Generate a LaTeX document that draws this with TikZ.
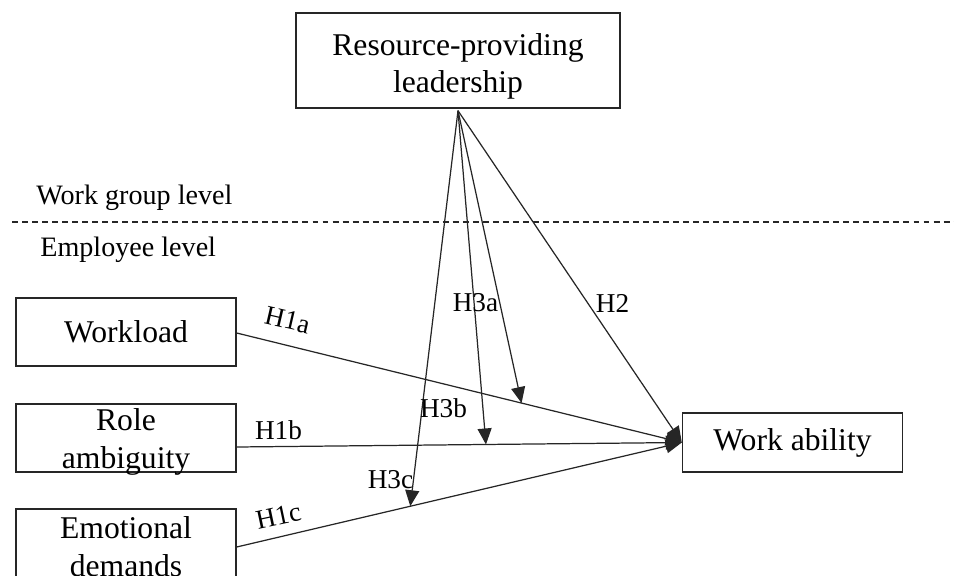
\documentclass[tikz,border=0pt]{standalone}
\usepackage{fontspec}
\setmainfont{Liberation Serif}
\usepackage{tikz}
\usetikzlibrary{arrows.meta, positioning, calc}
\tikzset{
    construct/.style={
        rectangle,
        draw=black!85,
        line width=0.8pt,
        minimum width=4.4cm,
        minimum height=1.36cm,
        inner sep=0pt,
        align=center,
        fill=white,
        font=\fontsize{18}{21.5}\selectfont
    },
    levellabel/.style={
        anchor=west,
        inner sep=0pt,
        font=\fontsize{16}{19}\selectfont
    },
    hyplabel/.style={
        inner sep=0pt,
        font=\fontsize{15.5}{18}\selectfont
    },
    path/.style={
        draw=black!85,
        line width=0.7pt,
        -{Triangle[length=0.32cm, width=0.28cm]}
    },
    levelline/.style={
        draw=black!85,
        line width=0.7pt,
        dash pattern=on 3.4pt off 2.3pt
    }
}
\begin{document}
\begin{tikzpicture}

\useasboundingbox (0,0) rectangle (19.08,-11.52);

% Work group level
\node[construct, minimum width=6.48cm, minimum height=1.9cm, text height=40.6pt] (rpl) at (9.16,-1.21) {Resource-providing\\leadership};

% Level divider
\node[levellabel] (wgl) at (0.72,-3.96) {Work group level};
\coordinate (divl) at (0.24,-4.44);
\coordinate (divr) at (19.08,-4.44);
\draw[levelline] (divl) -- (divr);
\node[levellabel] (eml) at (0.8,-5.0) {Employee level};

% Employee level
\node[construct] (wload) at (2.52,-6.64) {Workload};
\node[construct, text height=36.5pt, text depth=2pt] (rolea) at (2.52,-8.76) {Role\\ambiguity};
\node[construct, text height=38.4pt, text depth=0pt] (emod) at (2.52,-10.86) {Emotional\\demands};
\node[construct, minimum height=1.18cm] (wab) at (15.85,-8.85) {Work ability};

% Direct effects
\coordinate (wload_o) at ([yshift=-0.02cm]wload.east);
\coordinate (rolea_o) at ([yshift=-0.18cm]rolea.east);
\coordinate (emod_o) at ([yshift=-0.08cm]emod.east);
\draw[path] (wload_o) -- (wab.west);
\draw[path] (rolea_o) -- (wab.west);
\draw[path] (emod_o) -- (wab.west);
\draw[path] ([yshift=-0.04cm]rpl.south) -- (wab.west);

% Moderation
\coordinate (m1a) at ($(wload_o)!0.64!(wab.west)$);
\coordinate (m1b) at ($(rolea_o)!0.56!(wab.west)$);
\coordinate (m1c) at ($(emod_o)!0.39!(wab.west)$);
\draw[path] ([yshift=-0.04cm]rpl.south) -- (m1a);
\draw[path] ([yshift=-0.04cm]rpl.south) -- (m1b);
\draw[path] ([yshift=-0.04cm]rpl.south) -- (m1c);

% Hypothesis labels
\node[hyplabel, rotate=-13] (h1a) at (5.75,-6.40) {H1a};
\node[hyplabel] (h1b) at (5.57,-8.6) {H1b};
\node[hyplabel, rotate=12] (h1c) at (5.57,-10.33) {H1c};
\node[hyplabel] (h2) at (12.25,-6.06) {H2};
\node[hyplabel] (h3a) at (9.51,-6.06) {H3a};
\node[hyplabel] (h3b) at (8.87,-8.16) {H3b};
\node[hyplabel] (h3c) at (7.81,-9.6) {H3c};

\end{tikzpicture}
\end{document}
